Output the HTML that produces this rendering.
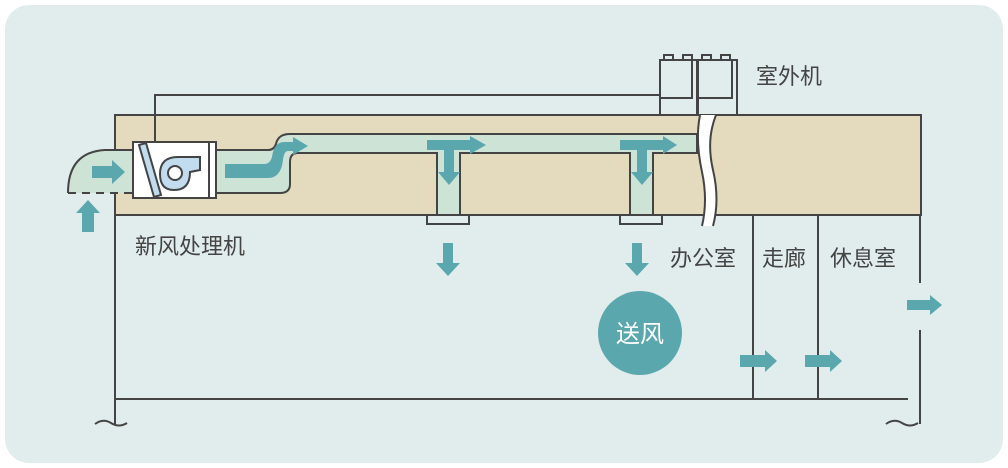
<!DOCTYPE html>
<html><head><meta charset="utf-8"><style>
html,body{margin:0;padding:0;background:#fff;width:1008px;height:468px;overflow:hidden}
svg{display:block}
text{font-family:"Liberation Sans","Noto Sans CJK SC",sans-serif;fill:#444}
</style></head><body>
<svg width="1008" height="468" viewBox="0 0 1008 468">
<rect x="5" y="5" width="998" height="458" rx="24" fill="#e1ecec"/>
<rect x="115" y="115" width="806" height="100" fill="#e4dbbf" stroke="#444" stroke-width="2"/>
<g stroke="#444" stroke-width="2" fill="none">
<line x1="115" y1="215" x2="115" y2="424"/>
<line x1="115" y1="399" x2="908" y2="399"/>
<line x1="920" y1="215" x2="920" y2="283"/>
<line x1="920" y1="330" x2="920" y2="424"/>
<line x1="753" y1="215" x2="753" y2="399"/>
<line x1="818" y1="215" x2="818" y2="399"/>
<path d="M95 424 q8 -6 16 -1 t16 0"/>
<path d="M886 424 q8 -6 16 -1 t16 0"/>
<polyline points="155,142 155,95 660,95"/>
</g>
<path d="M68 193 L68 183 Q70 152 105 150 L133 150 L133 193 Z" fill="#cde3d6"/>
<path d="M68 193 Q68 152 105 150 L133 150" fill="none" stroke="#444" stroke-width="2"/>
<line x1="68" y1="193" x2="133" y2="193" stroke="#444" stroke-width="2" stroke-dasharray="8,6"/>
<path d="M216 150 L268 150 Q274 150 276 144 Q278 134 290 134 L697 134 L697 153 L653 153 L653 215 L630 215 L630 153 L460 153 L460 215 L437 215 L437 153 L298 153 Q290 153 290 162 L290 184 Q290 193 280 193 L216 193 Z" fill="#cde3d6" stroke="#444" stroke-width="2"/>
<rect x="427" y="215" width="42" height="9" fill="#e1ecec" stroke="#444" stroke-width="2"/>
<rect x="620" y="215" width="42" height="9" fill="#e1ecec" stroke="#444" stroke-width="2"/>
<rect x="133" y="142" width="83" height="56" fill="#fff" stroke="#444" stroke-width="2"/>
<line x1="209" y1="142" x2="209" y2="198" stroke="#444" stroke-width="2"/>
<polygon points="139,145 146,143 161,195 154,197" fill="#c0dcee" stroke="#444" stroke-width="2"/>
<path d="M178 157 L200 157 L200 170 L190 172 Q190 190 174 190 Q160 190 160 174 Q160 157 178 157 Z" fill="#c0dcee" stroke="#444" stroke-width="2"/>
<circle cx="175" cy="173" r="7" fill="#fff" stroke="#444" stroke-width="2"/>
<g fill="#e1ecec" stroke="#444" stroke-width="2">
<rect x="664" y="55" width="9" height="5"/><rect x="683" y="55" width="9" height="5"/>
<rect x="702" y="55" width="9" height="5"/><rect x="721" y="55" width="9" height="5"/>
<rect x="660" y="60" width="37" height="55"/><rect x="698" y="60" width="39" height="55"/>
<rect x="660" y="60" width="32" height="38"/><rect x="698" y="60" width="34" height="38"/>
</g>
<path d="M700 115 L716 115 Q706 140 713 170 Q720 200 713 226 L702 226 Q708 200 702 172 Q695 140 700 115 Z" fill="#fff"/>
<path d="M700 115 Q695 140 702 172 Q708 200 702 226 M716 115 Q706 140 713 170 Q720 200 713 226" fill="none" stroke="#444" stroke-width="2"/>
<g fill="#5aa8ad">
<polygon points="92,166 112,166 112,160 125,172 112,184 112,178 92,178"/>
<polygon points="82,232 82,213 76,213 88,200 100,213 94,213 94,232"/>
<path d="M225 164 L264 164 Q270 164 272 157 Q274 142 284 142 L293 142 L293 137 L308 146 L293 155 L293 151 L288 151 Q284 151 283 160 Q281 178 268 178 L225 178 Z"/>
<polygon points="427,140 470,140 470,136 486,145 470,154 470,150 454,150 454,172 460,172 449,185 438,172 444,172 444,150 427,150"/>
<polygon points="620,140 663,140 663,136 677,145 663,154 663,150 647,150 647,172 653,172 642,185 631,172 637,172 637,150 620,150"/>
<polygon points="443,243 453,243 453,263 460,263 448,276 436,263 443,263"/>
<polygon points="632,243 642,243 642,263 649,263 637,276 625,263 632,263"/>
<polygon points="740,355 765,355 765,350 777,361 765,372 765,367 740,367"/>
<polygon points="805,355 830,355 830,350 842,361 830,372 830,367 805,367"/>
<polygon points="907,300 930,300 930,295 942,305 930,315 930,310 907,310"/>
</g>
<circle cx="640" cy="333" r="42" fill="#5aa8ad"/>
<text x="640" y="342" font-size="24" text-anchor="middle" style="fill:#fff">送风</text>
<text x="135" y="254" font-size="22">新风处理机</text>
<text x="756" y="84" font-size="22">室外机</text>
<text x="670" y="266" font-size="22">办公室</text>
<text x="762" y="266" font-size="22">走廊</text>
<text x="830" y="266" font-size="22">休息室</text>
</svg>
</body></html>
